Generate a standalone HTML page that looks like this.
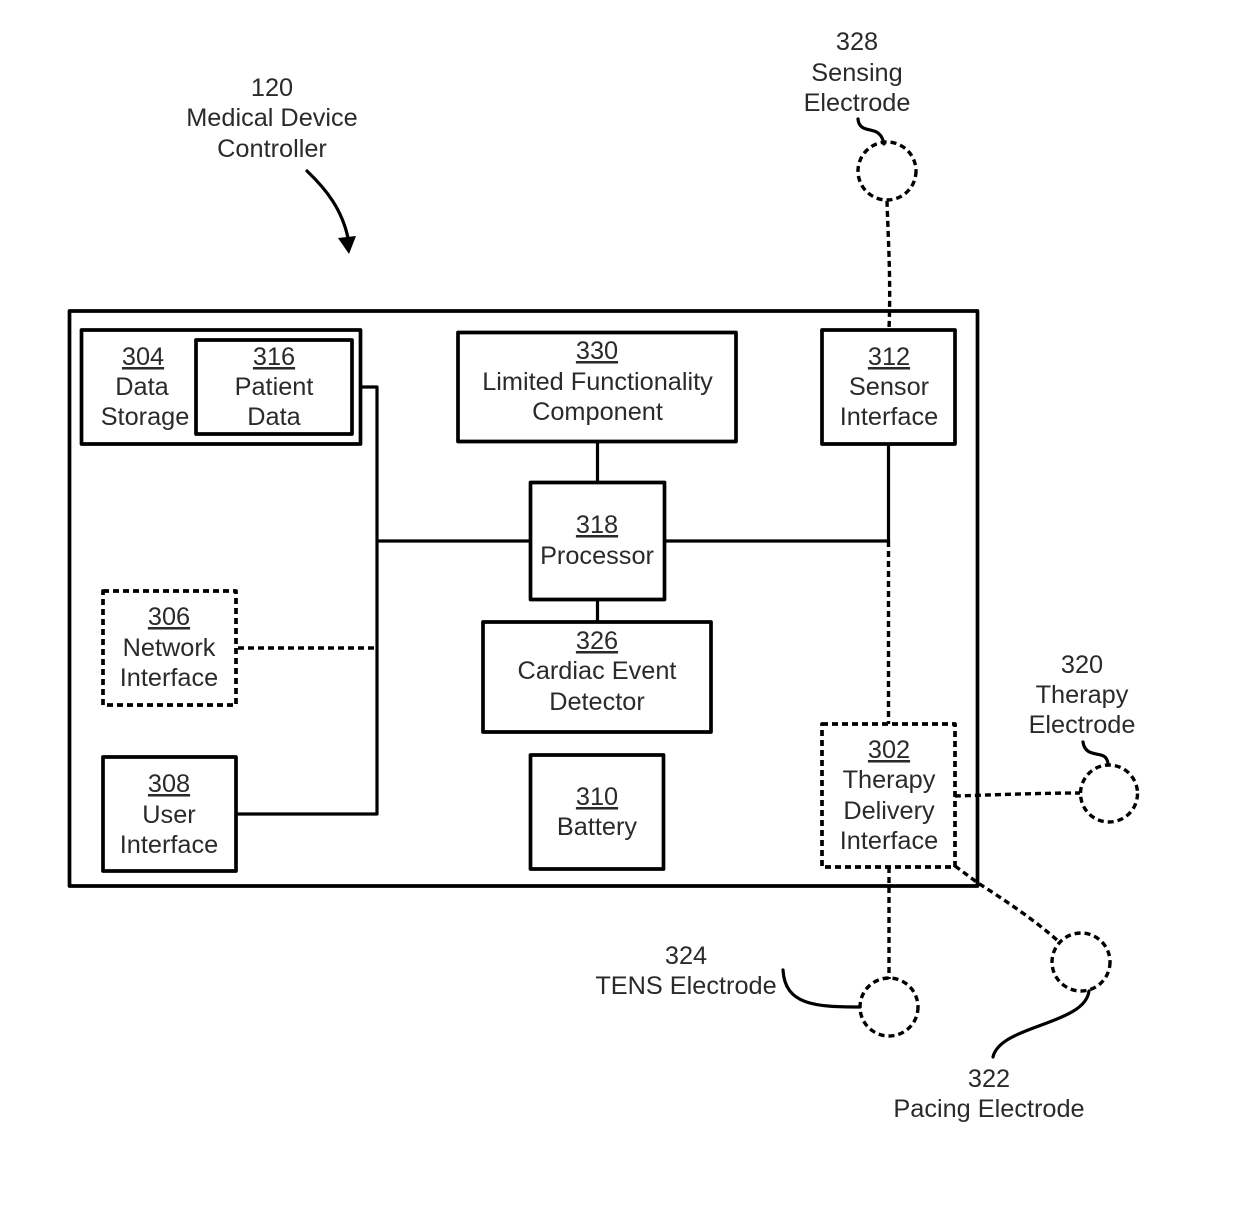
<!DOCTYPE html>
<html><head><meta charset="utf-8"><style>
html,body{margin:0;padding:0;background:#fff}
svg{display:block}
text{font-family:"Liberation Sans",sans-serif;font-size:25.3px;fill:#2a2a2a;text-anchor:middle}
.u{text-decoration:underline}
.b{fill:none;stroke:#000;stroke-width:3.7;stroke-linejoin:round}
.d{fill:none;stroke:#000;stroke-width:3.7;stroke-dasharray:6 4;stroke-linejoin:round}
.c{fill:none;stroke:#000;stroke-width:3.2;stroke-linecap:round;stroke-linejoin:round}
.dc{fill:none;stroke:#000;stroke-width:3.4;stroke-dasharray:6 4}
</style></head><body>
<svg width="1240" height="1217" viewBox="0 0 1240 1217" xmlns="http://www.w3.org/2000/svg">
<rect class="b" x="69.5" y="311" width="908" height="575"/>
<rect class="b" x="81.500" y="330" width="279" height="114"/>
<rect class="b" x="196" y="340" width="156" height="94"/>
<rect class="b" x="458" y="332.500" width="278" height="109"/>
<rect class="b" x="822" y="330" width="133" height="114"/>
<rect class="b" x="530.500" y="482.500" width="134" height="117"/>
<rect class="b" x="483" y="622" width="228" height="110"/>
<rect class="b" x="530.500" y="755" width="133" height="114"/>
<rect class="b" x="103" y="757" width="133" height="114"/>
<rect class="d" x="103" y="591" width="133" height="114"/>
<rect class="d" x="822" y="724" width="133" height="143"/>
<path class="c" d="M361 387H377V814H237M377 541H530M597.500 442V482M597.500 600V622M665 541H888M888.500 445V541"/>
<path class="dc" d="M238 648H375M888.500 541V724M889 867V979"/>
<path class="dc" d="M887 201C888 235 891 280 889 329M955 796C990 795 1040 793 1080 793M955 866L978 883C1000 897 1035 920 1058 941"/>
<circle class="dc" cx="887" cy="171" r="29"/>
<circle class="dc" cx="1109" cy="793.500" r="28.500"/>
<circle class="dc" cx="1081" cy="962" r="29"/>
<circle class="dc" cx="889" cy="1007" r="29"/>
<path class="c" d="M858 119C859 132 872 128 878 133C882 136 883 140 884 144M1083 742C1085 757 1100 752 1105 757C1107 759 1108 762 1108 765M783 970C785 1005 815 1007 860 1007M1089 991C1085 1025 1000 1025 993 1057"/>
<path class="c" d="M307 171C327 190 342 210 348 238"/>
<path d="M338 238L356 236L349 254Z" fill="#000"/>
<text x="272" y="96">120</text><text x="272" y="126">Medical Device</text><text x="272" y="157">Controller</text>
<text x="857" y="50">328</text><text x="857" y="81">Sensing</text><text x="857" y="111">Electrode</text>
<text class="u" x="143" y="365">304</text><text x="142" y="395">Data</text><text x="145" y="425">Storage</text>
<text class="u" x="274" y="365">316</text><text x="274" y="395">Patient</text><text x="274" y="425">Data</text>
<text class="u" x="597" y="359">330</text><text x="597.500" y="390">Limited Functionality</text><text x="597.500" y="420">Component</text>
<text class="u" x="889" y="365">312</text><text x="889" y="395">Sensor</text><text x="889" y="425">Interface</text>
<text class="u" x="597" y="533">318</text><text x="597" y="564">Processor</text>
<text class="u" x="169" y="625">306</text><text x="169" y="656">Network</text><text x="169" y="686">Interface</text>
<text class="u" x="597" y="649">326</text><text x="597" y="679">Cardiac Event</text><text x="597" y="710">Detector</text>
<text class="u" x="169" y="792">308</text><text x="169" y="823">User</text><text x="169" y="853">Interface</text>
<text class="u" x="597" y="805">310</text><text x="597" y="835">Battery</text>
<text class="u" x="889" y="758">302</text><text x="889" y="788">Therapy</text><text x="889" y="819">Delivery</text><text x="889" y="849">Interface</text>
<text x="1082" y="673">320</text><text x="1082" y="703">Therapy</text><text x="1082" y="733">Electrode</text>
<text x="686" y="964">324</text><text x="686" y="994">TENS Electrode</text>
<text x="989" y="1087">322</text><text x="989" y="1117">Pacing Electrode</text>
</svg>
</body></html>
